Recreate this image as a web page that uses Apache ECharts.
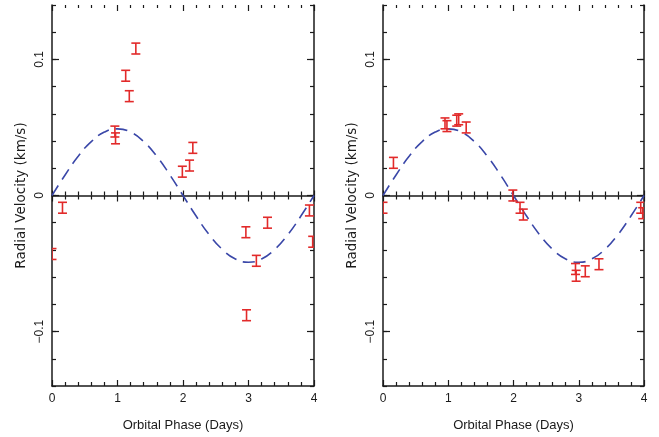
<!DOCTYPE html>
<html>
<head>
<meta charset="utf-8">
<script src="https://cdn.jsdelivr.net/npm/echarts@6/dist/echarts.min.js"></script>
<style>
  html, body { margin: 0; padding: 0; background: #fff; }
  #chart { width: 659px; height: 437px; }
</style>
</head>
<body>
<div id="chart"></div>
<script>
// Radial velocity measurements, folded on orbital phase (days)
const leftPhase    = [0.00, 0.16, 0.96, 0.97, 1.125, 1.18, 1.28, 1.99, 2.10, 2.15, 2.96, 2.97, 3.12, 3.29, 3.93, 3.98];
const leftVelocity = [-0.043, -0.009, 0.047, 0.042, 0.088, 0.073, 0.108, 0.0175, 0.022, 0.035, -0.027, -0.088, -0.048, -0.020, -0.011, -0.034];
const leftError    = [0.004, 0.004, 0.004, 0.004, 0.004, 0.004, 0.004, 0.004, 0.004, 0.004, 0.004, 0.004, 0.004, 0.004, 0.004, 0.004];

const rightPhase    = [0.00, 0.16, 0.95, 0.98, 1.13, 1.16, 1.275, 1.99, 2.10, 2.15, 2.95, 2.96, 3.10, 3.31, 3.95, 3.98];
const rightVelocity = [-0.009, 0.024, 0.053, 0.051, 0.055, 0.056, 0.050, 0.000, -0.009, -0.014, -0.054, -0.059, -0.0557, -0.0505, -0.009, -0.013];
const rightError    = [0.004, 0.004, 0.004, 0.004, 0.004, 0.004, 0.004, 0.004, 0.004, 0.004, 0.004, 0.004, 0.004, 0.004, 0.004, 0.004];

// Orbital model curve (same in both panels)
const modelPhase    = [0, 0.2, 0.4, 0.6, 0.8, 1.0, 1.2, 1.4, 1.6, 1.8, 2.0, 2.2, 2.4, 2.6, 2.8, 3.0, 3.2, 3.4, 3.6, 3.8, 4.0];
const modelVelocity = [0, 0.0151, 0.0288, 0.0396, 0.0466, 0.049, 0.0466, 0.0396, 0.0288, 0.0151, 0,
                       -0.0151, -0.0288, -0.0396, -0.0466, -0.049, -0.0466, -0.0396, -0.0288, -0.0151, 0];

const phaseTicks    = [0, 1, 2, 3, 4];
const velocityTicks = [-0.1, 0, 0.1];

const xTitle = 'Orbital Phase (Days)';
const yTitle = 'Radial Velocity (km/s)';

const INK = '#1a1a1a';
const RED = '#e22a2a';
const BLUE = '#3a47a8';
const FONT = 'Liberation Sans, Arial, sans-serif';
const TITLE_FONT_Y = 'DejaVu Sans, sans-serif';
const frameLine = { color: INK, width: 1.5 };
const tickLine = { color: INK, width: 1.2 };

function fmtVelocity(v) {
  if (Math.abs(v) < 1e-9) return '0';
  return v < 0 ? '\u2212' + String(Math.abs(v)) : String(v);
}

function zipErr(xs, ys, es) {
  return xs.map((x, i) => [x, ys[i], es[i]]);
}

function renderErrorBar(params, api) {
  const x = api.value(0), y = api.value(1), e = api.value(2);
  const top = api.coord([x, y + e]);
  const bot = api.coord([x, y - e]);
  const hw = 4.5;
  const style = { stroke: RED, lineWidth: 1.6, fill: null };
  const cs = params.coordSys;
  return {
    type: 'group',
    clipPath: { type: 'rect', shape: { x: cs.x, y: cs.y, width: cs.width, height: cs.height } },
    children: [
      { type: 'line', shape: { x1: top[0], y1: top[1], x2: bot[0], y2: bot[1] }, style },
      { type: 'line', shape: { x1: top[0] - hw, y1: top[1], x2: top[0] + hw, y2: top[1] }, style },
      { type: 'line', shape: { x1: bot[0] - hw, y1: bot[1], x2: bot[0] + hw, y2: bot[1] }, style }
    ]
  };
}

const grids = [
  { left: 52, right: 345, top: 5, bottom: 51 },
  { left: 383, right: 15, top: 5, bottom: 51 }
];

const xAxes = [];
const yAxes = [];

grids.forEach((g, gi) => {
  const yBase = gi * 4;
  const common = { gridIndex: gi, type: 'value', min: 0, max: 4, interval: 1, splitLine: { show: false } };
  // bottom frame with labels
  xAxes.push(Object.assign({}, common, {
    position: 'bottom',
    axisLine: { onZero: false, lineStyle: frameLine },
    axisTick: { inside: true, length: 6, lineStyle: tickLine },
    minorTick: { show: true, splitNumber: 5, length: 4, lineStyle: tickLine },
    axisLabel: { fontSize: 12, fontFamily: FONT, color: INK, margin: 7,
                 customValues: phaseTicks, formatter: v => String(v) },
    name: xTitle, nameLocation: 'middle', nameGap: 33,
    nameTextStyle: { fontSize: 13, fontFamily: FONT, color: INK }
  }));
  // top frame: ticks only
  xAxes.push(Object.assign({}, common, {
    position: 'top',
    axisLine: { show: false, onZero: false },
    axisTick: { inside: true, length: 6, lineStyle: tickLine },
    minorTick: { show: true, splitNumber: 5, length: 3, lineStyle: tickLine },
    axisLabel: { show: false }
  }));
  // zero line, ticks upward
  xAxes.push(Object.assign({}, common, {
    position: 'bottom',
    axisLine: { onZero: true, onZeroAxisIndex: yBase, lineStyle: frameLine },
    axisTick: { inside: true, length: 5, lineStyle: tickLine },
    minorTick: { show: true, splitNumber: 5, length: 4, lineStyle: tickLine },
    axisLabel: { show: false }
  }));
  // zero line, ticks downward
  xAxes.push(Object.assign({}, common, {
    position: 'bottom',
    axisLine: { show: false, onZero: true, onZeroAxisIndex: yBase },
    axisTick: { inside: false, length: 6, lineStyle: tickLine },
    minorTick: { show: true, splitNumber: 5, length: 4, lineStyle: tickLine },
    axisLabel: { show: false }
  }));

  const yCommon = { gridIndex: gi, type: 'value', min: -0.14, max: 0.14, splitLine: { show: false } };
  // left frame, major ticks and labels
  yAxes.push(Object.assign({}, yCommon, {
    position: 'left',
    axisLine: { onZero: false, lineStyle: frameLine },
    axisTick: { inside: true, length: 7, customValues: velocityTicks, lineStyle: tickLine },
    axisLabel: { customValues: velocityTicks, rotate: 90, formatter: fmtVelocity,
                 fontSize: 12, fontFamily: FONT, color: INK, margin: 6 },
    name: yTitle, nameLocation: 'middle', nameGap: 24, nameRotate: 90,
    nameTextStyle: { fontSize: 13.5, fontFamily: TITLE_FONT_Y, color: INK }
  }));
  // left frame, minor ticks
  yAxes.push(Object.assign({}, yCommon, {
    position: 'left', interval: 0.02,
    axisLine: { show: false, onZero: false },
    axisTick: { inside: true, length: 4, lineStyle: tickLine },
    axisLabel: { show: false }
  }));
  // right frame, major ticks
  yAxes.push(Object.assign({}, yCommon, {
    position: 'right',
    axisLine: { onZero: false, lineStyle: frameLine },
    axisTick: { inside: true, length: 7, customValues: velocityTicks, lineStyle: tickLine },
    axisLabel: { show: false }
  }));
  // right frame, minor ticks
  yAxes.push(Object.assign({}, yCommon, {
    position: 'right', interval: 0.02,
    axisLine: { show: false, onZero: false },
    axisTick: { inside: true, length: 4, lineStyle: tickLine },
    axisLabel: { show: false }
  }));
});

const modelData = modelPhase.map((x, i) => [x, modelVelocity[i]]);

function panelSeries(gi, xs, ys, es) {
  return [
    {
      type: 'line',
      xAxisIndex: gi * 4, yAxisIndex: gi * 4,
      data: modelData,
      smooth: true,
      showSymbol: false, symbol: 'none',
      clip: true,
      lineStyle: { color: BLUE, width: 1.6, type: [12, 7] },
      silent: true, z: 2
    },
    {
      type: 'custom',
      xAxisIndex: gi * 4, yAxisIndex: gi * 4,
      data: zipErr(xs, ys, es),
      renderItem: renderErrorBar,
      clip: true,
      silent: true, z: 3
    }
  ];
}

const chart = echarts.init(document.getElementById('chart'), null, { renderer: 'canvas' });
chart.setOption({
  animation: false,
  backgroundColor: '#ffffff',
  grid: grids,
  xAxis: xAxes,
  yAxis: yAxes,
  series: [].concat(
    panelSeries(0, leftPhase, leftVelocity, leftError),
    panelSeries(1, rightPhase, rightVelocity, rightError)
  )
});
</script>
</body>
</html>
